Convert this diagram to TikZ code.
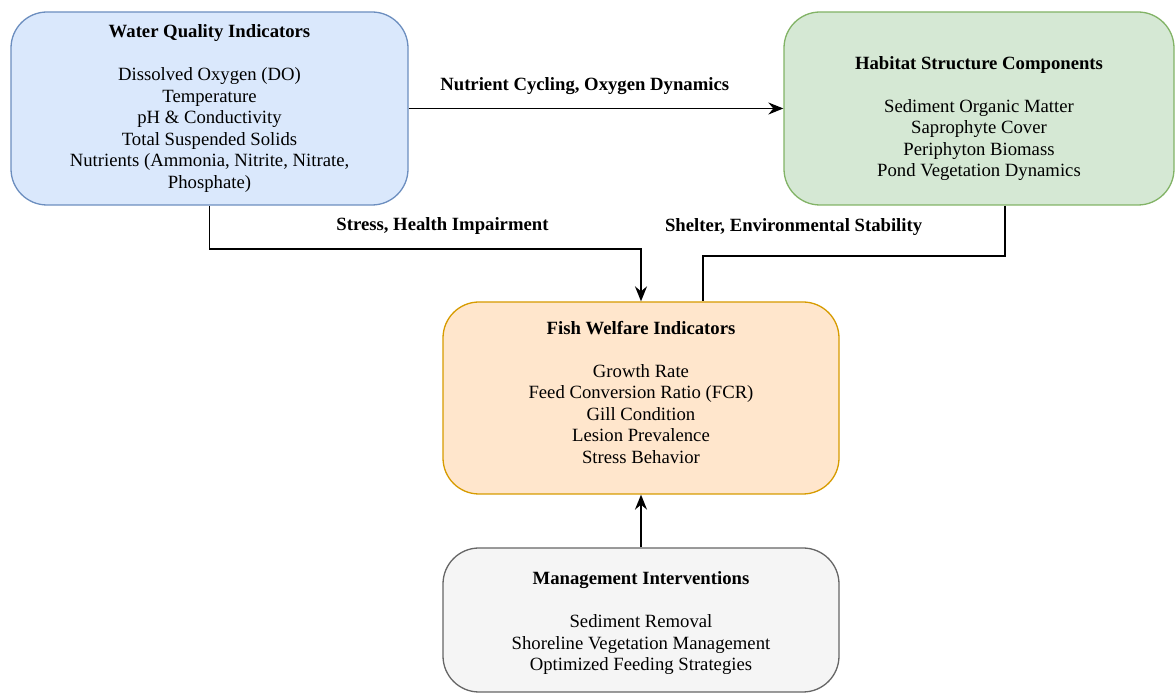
\documentclass[tikz,border=0pt]{standalone}
\usepackage{fontspec}
\setmainfont{Liberation Serif}
\usetikzlibrary{arrows.meta}

\definecolor{waterfill}{HTML}{DAE8FC}
\definecolor{waterline}{HTML}{6C8EBF}
\definecolor{habfill}{HTML}{D5E8D4}
\definecolor{habline}{HTML}{82B366}
\definecolor{fishfill}{HTML}{FFE6CC}
\definecolor{fishline}{HTML}{D79B00}
\definecolor{mgmtfill}{HTML}{F5F5F5}
\definecolor{mgmtline}{HTML}{666666}

\tikzset{
  box/.style={draw, rectangle, rounded corners=36pt, line width=1.3pt,
    align=center, inner sep=0pt,
    font=\fontsize{18.7}{21.5}\selectfont},
  arr/.style={line width=1.8pt, -{Stealth[length=15pt,width=12pt,inset=5pt]}},
  link/.style={line width=1.8pt},
  lbl/.style={font=\fontsize{18.7}{21.5}\selectfont\bfseries}
}

\begin{document}
\begin{tikzpicture}[x=1pt,y=1pt]
    \useasboundingbox (0,0) rectangle (1176,696);
        \node[box, fill=waterfill, draw=waterline, minimum width=397pt, minimum height=193pt] (water) at (209.5,587.5)
            {\textbf{Water Quality Indicators}\\[21.5pt]
             Dissolved Oxygen (DO)\\ Temperature\\ pH \& Conductivity\\ Total Suspended Solids\\
             Nutrients (Ammonia, Nitrite, Nitrate,\\ Phosphate)};
        \node[box, fill=habfill, draw=habline, minimum width=390pt, minimum height=193pt] (habitat) at (979,587.5)
            {\rule{0pt}{33pt}\textbf{Habitat Structure Components}\\[21.5pt]
             Sediment Organic Matter\\ Saprophyte Cover\\ Periphyton Biomass\\ Pond Vegetation Dynamics};
        \node[box, fill=fishfill, draw=fishline, minimum width=396pt, minimum height=192pt] (fish) at (641,298)
            {\textbf{Fish Welfare Indicators}\\[21.5pt]
             Growth Rate\\ Feed Conversion Ratio (FCR)\\ Gill Condition\\ Lesion Prevalence\\ Stress Behavior\rule[-12pt]{0pt}{12pt}};
        \node[box, fill=mgmtfill, draw=mgmtline, minimum width=396pt, minimum height=144pt] (mgmt) at (641,76)
            {\rule{0pt}{20pt}\textbf{Management Interventions}\\[21.5pt]
             Sediment Removal\\ Shoreline Vegetation Management\\ Optimized Feeding Strategies};
        \draw[arr] (water.east) -- node[lbl, pos=0.47, yshift=22pt] {Nutrient Cycling, Oxygen Dynamics} (habitat.west);
        \draw[arr] (water.south) -- ++(0,-43) -| node[lbl, pos=0.27, yshift=23pt] {Stress, Health Impairment} (fish.north);
        \draw[link] ([xshift=26pt]habitat.south) -- ++(0,-50) -| node[lbl, pos=0.35, yshift=29pt] {Shelter, Environmental Stability} ([xshift=62pt]fish.north);
        \draw[arr] (mgmt.north) -- (fish.south);
    \end{tikzpicture}
\end{document}
